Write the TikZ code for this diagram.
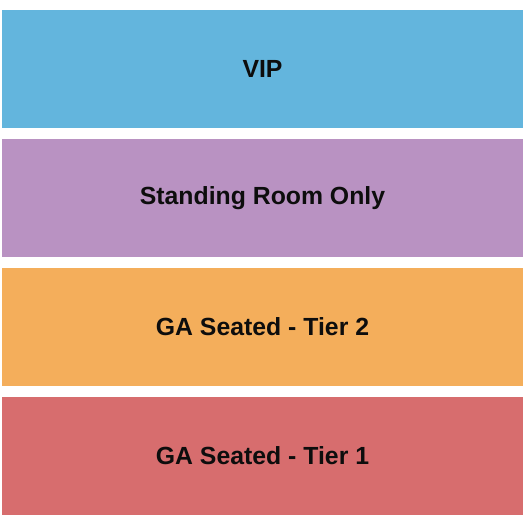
\documentclass[tikz,border=0pt]{standalone}
\usepackage{fontspec}
\setmainfont{Liberation Sans}
\usetikzlibrary{positioning}

\definecolor{vipblue}{HTML}{63B5DD}
\definecolor{srolilac}{HTML}{B992C2}
\definecolor{tiertwo}{HTML}{F4AE5B}
\definecolor{tierone}{HTML}{D76D6E}

\begin{document}
\begin{tikzpicture}[
	x = 1pt, y = 1pt,
	node distance = 11pt, % gap between bands
	Band/.style={rectangle, inner sep=0pt, outer sep=0pt, minimum width=521pt, minimum height=118pt, font=\fontsize{24.8}{28}\selectfont\bfseries, text=black!95},  %no border
	]
	\useasboundingbox (0,0) rectangle (525,-525);

	% Sections from top to bottom
	\node[Band, fill=vipblue] (V) at (262.5,-69) {VIP};
	\node[Band, fill=srolilac] (S) [below = of V] {Standing Room Only};
	\node[Band, fill=tiertwo] (T2) [below = of S] {GA Seated - Tier 2};
	\node[Band, fill=tierone] (T1) [below = of T2] {GA Seated - Tier 1};

\end{tikzpicture}
\end{document}
